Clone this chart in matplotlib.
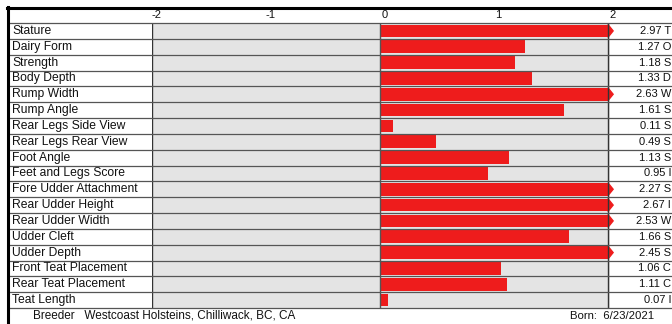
import matplotlib
matplotlib.use("Agg")
import matplotlib.pyplot as plt
from matplotlib.patches import Polygon
from matplotlib.transforms import blended_transform_factory

plt.rcParams['font.family'] = ['Liberation Sans', 'DejaVu Sans']

traits = ["Stature", "Dairy Form", "Strength", "Body Depth", "Rump Width",
          "Rump Angle", "Rear Legs Side View", "Rear Legs Rear View", "Foot Angle",
          "Feet and Legs Score", "Fore Udder Attachment", "Rear Udder Height",
          "Rear Udder Width", "Udder Cleft", "Udder Depth", "Front Teat Placement",
          "Rear Teat Placement", "Teat Length"]
values = [2.97, 1.27, 1.18, 1.33, 2.63, 1.61, 0.11, 0.49, 1.13, 0.95,
          2.27, 2.67, 2.53, 1.66, 2.45, 1.06, 1.11, 0.07]
# only the first letter of each descriptor is visible in the reference
descriptors = ["T", "O", "S", "D", "W", "S", "S", "S", "S", "I",
               "S", "I", "W", "S", "S", "C", "C", "I"]
xticks = [-2, -1, 0, 1, 2]
breeder = "Breeder   Westcoast Holsteins, Chilliwack, BC, CA"
born = "Born:  6/23/2021"

W, H = 672, 324
fig = plt.figure(figsize=(W / 100, H / 100), dpi=100)
fig.patch.set_facecolor("white")

def fx(px):
    return px / W

def fy(py):
    return 1 - py / H

ax_left, ax_right = 152, 610
ax_top, ax_bot = 23, 308
ax = fig.add_axes([fx(ax_left), fy(ax_bot), fx(ax_right - ax_left), (ax_bot - ax_top) / H])
ax.set_facecolor("#e4e4e4")
n = len(traits)
ax.set_xlim(-2, 2 + 2 / 114)
ax.set_ylim(n, 0)
for s in ax.spines.values():
    s.set_visible(False)
ax.set_xticks([])
ax.set_yticks([])

red = "#ee1c1c"
ys = [i + 0.5 for i in range(n)]
bh = 0.8
ax.barh(ys, [min(v, 2) for v in values], height=bh, color=red, left=0, zorder=2)
for y, v in zip(ys, values):
    if v > 2:
        tri = Polygon([(2, y - bh / 2), (2.045, y), (2, y + bh / 2)], closed=True,
                      color=red, zorder=3, clip_on=False)
        ax.add_patch(tri)

for xv, c in [(-2, "#333333"), (0, "#555555"), (2, "#333333")]:
    ax.axvline(xv, color=c, lw=1.0, zorder=4)

tr = blended_transform_factory(fig.transFigure, ax.transData)
for i in range(n + 1):
    ax.plot([fx(8), 1.0], [i, i], transform=tr, color="#555555", lw=0.9,
            clip_on=False, zorder=5)

for y, t in zip(ys, traits):
    ax.text(fx(12), y, t, transform=tr, ha="left", va="center", fontsize=8.7,
            color="#111111", clip_on=False)
for y, v, d in zip(ys, values, descriptors):
    ax.text(fx(671), y, f"{v:.2f} {d}", transform=tr, ha="right", va="center",
            fontsize=8, color="#111111", clip_on=False)

trh = blended_transform_factory(ax.transData, fig.transFigure)
for xv in xticks:
    ax.text(xv + 0.04, fy(15), f"{xv}", transform=trh, ha="center", va="center",
            fontsize=8, color="#111111", clip_on=False)

fig.add_artist(plt.Line2D([fx(7), 1.0], [fy(7.5), fy(7.5)], color="black", lw=2.2))
fig.add_artist(plt.Line2D([fx(8), fx(8)], [fy(7), 0], color="black", lw=2.2))

fig.text(fx(164), fy(316), breeder, ha="center", va="center", fontsize=8.5, color="#111111")
fig.text(fx(570), fy(316), born, ha="left", va="center", fontsize=8.2, color="#111111")

fig.savefig("out.png", dpi=100)
